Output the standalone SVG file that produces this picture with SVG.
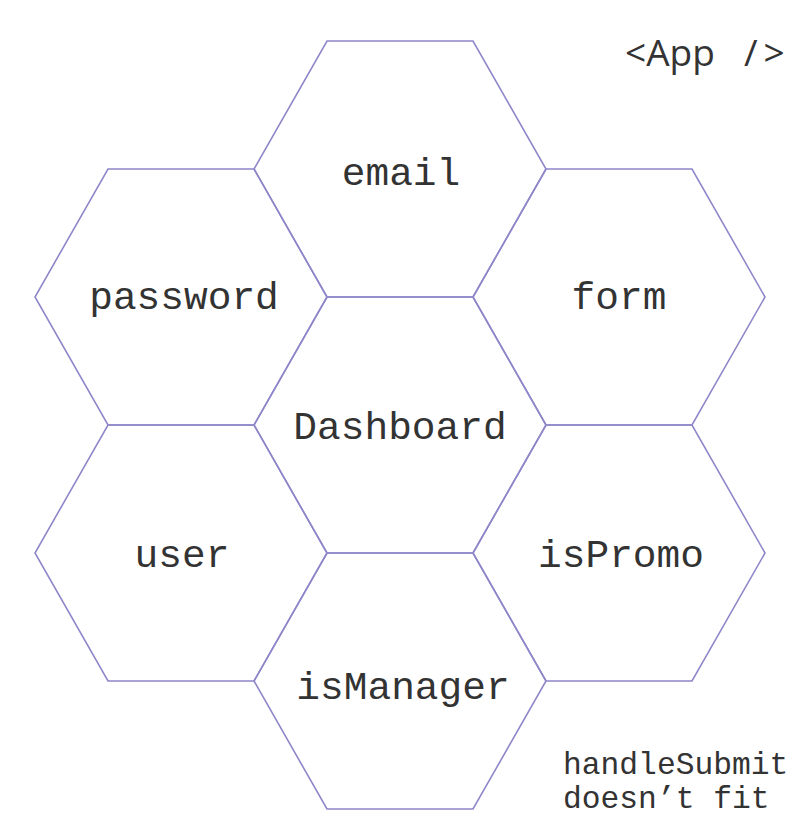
<svg xmlns="http://www.w3.org/2000/svg" width="806" height="830" viewBox="0 0 806 830">
<style>
.hex{fill:none;stroke:#8e87c9;stroke-width:1.6;stroke-linejoin:miter}
.lbl{font-family:"Liberation Mono","DejaVu Sans Mono",monospace;font-size:39.5px;fill:#333;text-anchor:middle}
.note{font-family:"Liberation Mono","DejaVu Sans Mono",monospace;font-size:31.3px;fill:#333}
.title{font-family:"Open Sans","Noto Sans",sans-serif;font-size:37px;fill:#333}
</style>
<defs>
<polygon id="hx" points="-73,-128 73,-128 146,0 73,128 -73,128 -146,0"/>
</defs>
<rect width="806" height="830" fill="#fff"/>
<g id="connectors"/>
<g id="email"><use href="#hx" class="hex" x="400" y="169"/><text class="lbl" x="401" y="185">email</text></g>
<g id="password"><use href="#hx" class="hex" x="181" y="297"/><text class="lbl" x="184" y="309">password</text></g>
<g id="form"><use href="#hx" class="hex" x="619" y="297"/><text class="lbl" x="619" y="309">form</text></g>
<g id="dashboard"><use href="#hx" class="hex" x="400" y="425"/><text class="lbl" x="400" y="439">Dashboard</text></g>
<g id="user"><use href="#hx" class="hex" x="181" y="553"/><text class="lbl" x="182" y="567">user</text></g>
<g id="isPromo"><use href="#hx" class="hex" x="619" y="553"/><text class="lbl" x="621" y="567">isPromo</text></g>
<g id="isManager"><use href="#hx" class="hex" x="400" y="681"/><text class="lbl" x="403" y="699">isManager</text></g>
<g id="app"><text class="title" x="625" y="66">&lt;App <tspan x="744" letter-spacing="6">/&gt;</tspan></text></g>
<g id="note"><text class="note" x="563" y="774">handleSubmit</text><text class="note" x="563" y="808">doesn’t fit</text></g>
</svg>
